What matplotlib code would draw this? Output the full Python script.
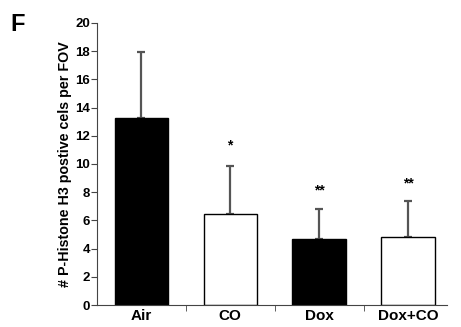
import matplotlib
matplotlib.use('Agg')
import matplotlib.pyplot as plt
from matplotlib.ticker import FixedLocator

plt.rcParams['font.family'] = ['Liberation Sans', 'DejaVu Sans']
plt.rcParams['font.weight'] = 'bold'

groups = ['Air', 'CO', 'Dox', 'Dox+CO']
means = [13.25, 6.45, 4.65, 4.85]
sd_upper = [4.7, 3.4, 2.15, 2.5]
colors = ['black', 'white', 'black', 'white']
stars = ['', '*', '**', '**']
star_y = [0, 11.3, 8.1, 8.6]

fig = plt.figure(figsize=(4.61, 3.27), dpi=100)
ax = fig.add_axes([0.21, 0.067, 0.76, 0.863])

x = list(range(len(groups)))
ax.bar(x, means, width=0.6, color=colors, edgecolor='black', linewidth=1, zorder=2)
ax.errorbar(x, means, yerr=[[0]*4, sd_upper], fmt='none', ecolor='#555555',
            elinewidth=1.6, capsize=3, capthick=1.6, zorder=1)

for xi, s, sy in zip(x, stars, star_y):
    if s:
        ax.text(xi, sy, s, ha='center', va='center', fontsize=10, fontweight='bold')

ax.set_xlim(-0.5, 3.44)
ax.set_ylim(0, 20)
ax.set_yticks(range(0, 21, 2))
ax.set_xticks(x)
ax.set_xticklabels(groups, fontsize=11, fontweight='bold')
ax.tick_params(axis='x', length=0, pad=3)
ax.xaxis.set_minor_locator(FixedLocator([0.5, 1.5, 2.5]))
ax.tick_params(axis='x', which='minor', length=4, direction='out', color='#444444')
ax.tick_params(axis='y', length=4, direction='out', labelsize=9.5, pad=1, color='#444444')
for lab in ax.get_yticklabels():
    lab.set_fontweight('bold')

ax.spines['top'].set_visible(False)
ax.spines['right'].set_visible(False)
ax.spines['left'].set_color('#444444')
ax.spines['bottom'].set_color('#444444')

ax.set_ylabel('# P-Histone H3 postive cels per FOV', fontsize=10.3, fontweight='bold', labelpad=2)
fig.text(0.022, 0.905, 'F', fontsize=17, fontweight='bold')

fig.savefig('out.png', dpi=100)
